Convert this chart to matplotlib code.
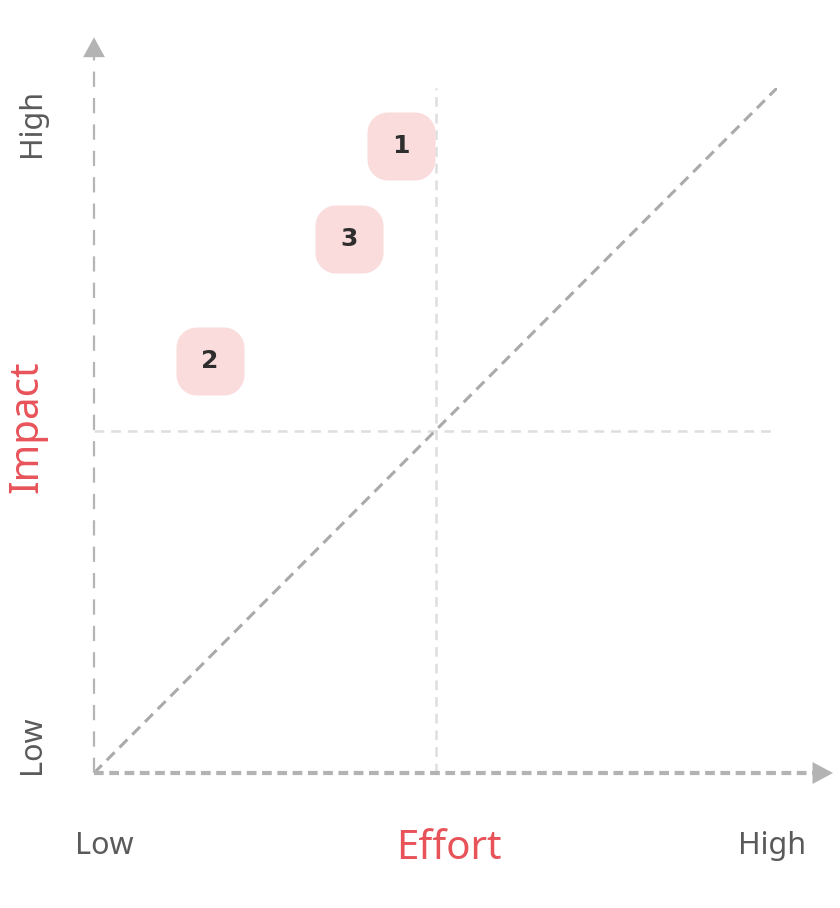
import matplotlib
matplotlib.use("Agg")
import matplotlib.pyplot as plt
from matplotlib.path import Path
import numpy as np

# ---- data ----
labels = ["1", "2", "3"]
effort = [45, 17, 37.3]
impact = [91.5, 60.2, 78]
axis_low_high = ["Low", "High"]
x_title = "Effort"
y_title = "Impact"

W, H = 840, 908
plt.rcParams['lines.scale_dashes'] = False
fig = plt.figure(figsize=(W / 100, H / 100), dpi=100)
ox, oy, ex, ey = 94, 773, 777, 88
ax = fig.add_axes([ox / W, (H - oy) / H, (ex - ox) / W, (oy - ey) / H])
ax.set_xlim(0, 100)
ax.set_ylim(0, 100)
ax.axis("off")

# midlines
ax.plot([50, 50], [0, 100], color="#dedede", lw=1.8, ls=(0, (7, 5)), zorder=1)
ax.plot([0, 100.5], [50, 50], color="#dedede", lw=1.8, ls=(0, (7, 5)), zorder=1)
# diagonal
ax.plot([0, 100], [0, 100], color="#aaaaaa", lw=2.2, ls=(0, (8, 5)), zorder=2)

# axes with arrows
ax.plot([0, 0], [0, 104.7], color="#b5b5b5", lw=1.6, ls=(0, (11, 8)), clip_on=False, zorder=2)
ax.plot([0, 105.4], [0, 0], color="#b3b3b3", lw=3.0, ls=(0, (7, 4)), clip_on=False, zorder=2)
ax.fill([-1.6, 1.6, 0], [104.5, 104.5, 107.4], color="#b3b3b3", clip_on=False, zorder=2, lw=0)
ax.fill([105.2, 105.2, 108.2], [-1.6, 1.6, 0], color="#b3b3b3", clip_on=False, zorder=2, lw=0)

# rounded square marker
r, k = 0.6, 0.5523
verts = [(-1 + r, -1), (1 - r, -1),
         (1 - r + k * r, -1), (1, -1 + r - k * r), (1, -1 + r),
         (1, 1 - r),
         (1, 1 - r + k * r), (1 - r + k * r, 1), (1 - r, 1),
         (-1 + r, 1),
         (-1 + r - k * r, 1), (-1, 1 - r + k * r), (-1, 1 - r),
         (-1, -1 + r),
         (-1, -1 + r - k * r), (-1 + r - k * r, -1), (-1 + r, -1),
         (-1 + r, -1)]
codes = [Path.MOVETO, Path.LINETO,
         Path.CURVE4, Path.CURVE4, Path.CURVE4,
         Path.LINETO,
         Path.CURVE4, Path.CURVE4, Path.CURVE4,
         Path.LINETO,
         Path.CURVE4, Path.CURVE4, Path.CURVE4,
         Path.LINETO,
         Path.CURVE4, Path.CURVE4, Path.CURVE4,
         Path.CLOSEPOLY]
rsq = Path(verts, codes)
side_pt = 68 * 72 / 100
ax.scatter(effort, impact, marker=rsq, s=side_pt ** 2, color="#fadcdd", lw=0, zorder=3)
for lab, x, y in zip(labels, effort, impact):
    ax.text(x, y, lab, ha="center", va="center", fontsize=18, fontweight="bold",
            family=["DejaVu Sans"], color="#2e2e2e", zorder=4)

grey = "#5a5a5a"
red = "#e8535a"
fnt = ["Noto Sans", "DejaVu Sans"]
fig.text(32 / W, 1 - 123 / H, axis_low_high[1], rotation=90, ha="center", va="center",
         fontsize=22, color=grey, family=fnt)
fig.text(32 / W, 1 - 745 / H, axis_low_high[0], rotation=90, ha="center", va="center",
         fontsize=22, color=grey, family=fnt)
fig.text(27 / W, 1 - 427 / H, y_title, rotation=90, ha="center", va="center",
         fontsize=29, color=red, family=fnt)
fig.text(104 / W, 1 - 846 / H, axis_low_high[0], ha="center", va="center",
         fontsize=22, color=grey, family=fnt)
fig.text(772 / W, 1 - 846 / H, axis_low_high[1], ha="center", va="center",
         fontsize=22, color=grey, family=fnt)
fig.text(449 / W, 1 - 849 / H, x_title, ha="center", va="center",
         fontsize=29, color=red, family=fnt)

fig.savefig("out.png", dpi=100, facecolor="white")
